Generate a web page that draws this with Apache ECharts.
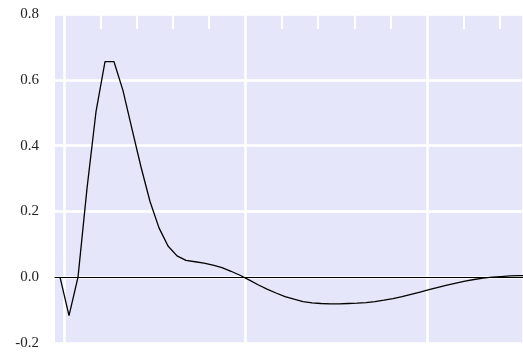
<!DOCTYPE html>
<html>
<head>
<meta charset="utf-8">
<script src="https://cdn.jsdelivr.net/npm/echarts@6/dist/echarts.min.js"></script>
<style>
  html, body { margin: 0; padding: 0; background: #ffffff; }
  #chart { width: 523px; height: 356px; }
</style>
</head>
<body>
<div id="chart"></div>
<script>
// Response samples, one per step
const sampleValues = [
  0.000, -0.117, 0.000, 0.270, 0.503, 0.655, 0.655, 0.567, 0.450, 0.335,
  0.230, 0.150, 0.095, 0.065, 0.051, 0.047, 0.043, 0.037, 0.029, 0.018,
  0.006, -0.008, -0.023, -0.036, -0.048, -0.059, -0.067, -0.074, -0.078, -0.080,
  -0.081, -0.081, -0.080, -0.079, -0.077, -0.074, -0.070, -0.065, -0.059, -0.052,
  -0.045, -0.038, -0.031, -0.024, -0.018, -0.012, -0.007, -0.003, 0.000, 0.002,
  0.004, 0.005, 0.005
];
// Y tick labels
const yTicks = [-0.2, 0.0, 0.2, 0.4, 0.6, 0.8];

const seriesData = sampleValues.map((v, i) => [i, v]);

const chart = echarts.init(document.getElementById('chart'), null, { renderer: 'canvas' });

const option = {
  animation: false,
  grid: [
    // panel carrying the data and the horizontal rules
    { left: 55, top: 14, right: 0, bottom: 13, show: true, backgroundColor: '#E6E6FA', borderWidth: 0, outerBoundsMode: 'none' },
    // overlay carrying the vertical rules and the top minor ticks
    { left: 64, top: 14, right: 0, bottom: 13, show: false, outerBoundsMode: 'none' }
  ],
  xAxis: [
    {
      gridIndex: 0, type: 'value', min: -0.556, max: 51.44,
      axisLine: { show: true, onZero: true, lineStyle: { color: '#000', width: 1.2 } },
      axisTick: { show: false }, axisLabel: { show: false }, splitLine: { show: false }
    },
    {
      gridIndex: 1, type: 'value', position: 'top', min: 0, max: 50.58, interval: 20,
      axisLine: { show: false, onZero: false },
      axisTick: { show: false, inside: true },
      minorTick: { show: true, splitNumber: 5, length: 15, lineStyle: { color: '#ffffff', width: 2 } },
      axisLabel: { show: false },
      splitLine: { show: true, lineStyle: { color: '#ffffff', width: 2.6 } }
    }
  ],
  yAxis: [
    {
      gridIndex: 0, type: 'value', min: -0.2, max: 0.8, interval: 0.2,
      axisLine: { show: false }, axisTick: { show: false },
      axisLabel: {
        margin: 16, color: '#222', fontFamily: '"Liberation Serif", "Times New Roman", "DejaVu Serif", serif', fontSize: 15,
        formatter: v => {
          const t = yTicks.find(x => Math.abs(x - v) < 1e-9);
          return t === undefined ? '' : t.toFixed(1);
        }
      },
      splitLine: { show: true, lineStyle: { color: '#ffffff', width: 2.6 } }
    },
    {
      gridIndex: 1, type: 'value', min: -0.2, max: 0.8,
      show: false
    }
  ],
  series: [
    {
      type: 'line', xAxisIndex: 0, yAxisIndex: 0,
      data: seriesData, showSymbol: false, symbol: 'none',
      lineStyle: { color: '#000', width: 1.3 }, clip: true, z: 5
    }
  ]
};

chart.setOption(option);
</script>
</body>
</html>
